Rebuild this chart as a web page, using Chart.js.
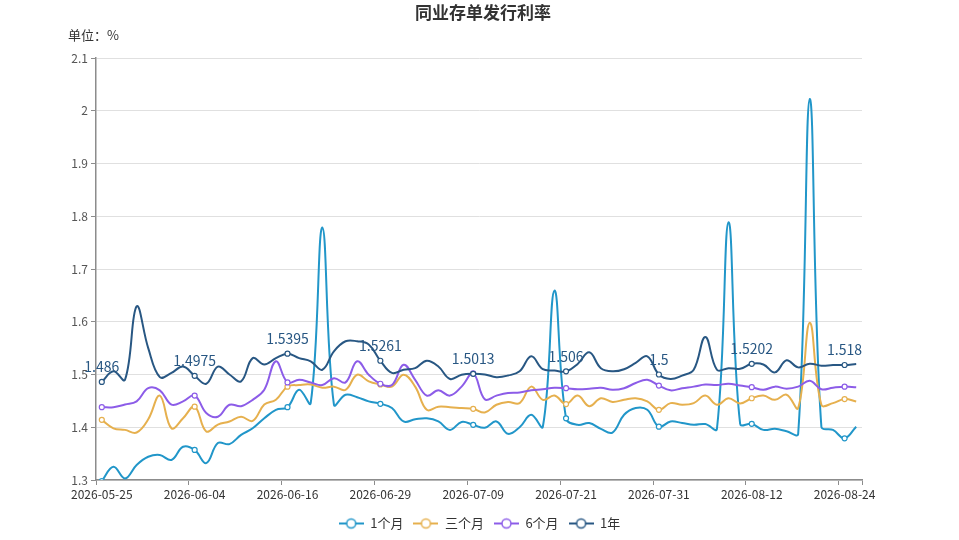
<!DOCTYPE html>
<html lang="zh-CN">
<head>
    <meta charset="UTF-8">
    <title>同业存单发行利率</title>
    <script src="https://cdn.jsdelivr.net/npm/chart.js@4.4.1/dist/chart.umd.min.js"></script>
    <style>
        html, body { margin: 0; padding: 0; background: #fff; }
        #wrap { position: relative; width: 959px; height: 540px; }
    </style>
</head>
<body>
    <div id="wrap"><canvas id="rateChart"></canvas></div>

    <script>
        // 交易日
        const dates = [
            '2026-05-25', '2026-05-26', '2026-05-27', '2026-05-28', '2026-05-29',
            '2026-06-01', '2026-06-02', '2026-06-03', '2026-06-04', '2026-06-05',
            '2026-06-08', '2026-06-09', '2026-06-10', '2026-06-11', '2026-06-12',
            '2026-06-15', '2026-06-16', '2026-06-17', '2026-06-18', '2026-06-22',
            '2026-06-23', '2026-06-24', '2026-06-25', '2026-06-26', '2026-06-29',
            '2026-06-30', '2026-07-01', '2026-07-02', '2026-07-03', '2026-07-06',
            '2026-07-07', '2026-07-08', '2026-07-09', '2026-07-10', '2026-07-13',
            '2026-07-14', '2026-07-15', '2026-07-16', '2026-07-17', '2026-07-20',
            '2026-07-21', '2026-07-22', '2026-07-23', '2026-07-24', '2026-07-27',
            '2026-07-28', '2026-07-29', '2026-07-30', '2026-07-31', '2026-08-03',
            '2026-08-04', '2026-08-05', '2026-08-06', '2026-08-07', '2026-08-10',
            '2026-08-11', '2026-08-12', '2026-08-13', '2026-08-14', '2026-08-17',
            '2026-08-18', '2026-08-19', '2026-08-20', '2026-08-21', '2026-08-24',
            '2026-08-25'
        ];

        const seriesNames = ['1个月', '三个月', '6个月', '1年'];

        const rate1m = [
            1.298, 1.325, 1.303, 1.3285, 1.344, 1.3475, 1.338, 1.363, 1.357, 1.332,
            1.37, 1.368, 1.3855, 1.398, 1.417, 1.433, 1.438, 1.471, 1.4457, 1.7785,
            1.443, 1.4616, 1.457, 1.449, 1.4445, 1.4364, 1.411, 1.415, 1.417, 1.411,
            1.395, 1.41, 1.4046, 1.399, 1.411, 1.3875, 1.40, 1.4236, 1.401, 1.659,
            1.417, 1.4046, 1.408, 1.397, 1.39, 1.4236, 1.4364, 1.433, 1.401, 1.411,
            1.408, 1.4046, 1.406, 1.397, 1.7886, 1.4065, 1.4065, 1.395, 1.397, 1.3925,
            1.3875, 2.0224, 1.401, 1.395, 1.379, 1.401
        ];

        const rate3m = [
            1.414, 1.398, 1.395, 1.39, 1.415, 1.46, 1.398, 1.417, 1.439, 1.392,
            1.405, 1.411, 1.42, 1.412, 1.443, 1.452, 1.477, 1.48, 1.481, 1.475,
            1.477, 1.471, 1.4996, 1.487, 1.481, 1.477, 1.4996, 1.477, 1.433, 1.439,
            1.438, 1.4364, 1.435, 1.428, 1.4426, 1.4477, 1.4457, 1.477, 1.452, 1.46,
            1.444, 1.46, 1.44, 1.455, 1.448, 1.452, 1.455, 1.449, 1.433, 1.4457,
            1.4426, 1.4457, 1.46, 1.4426, 1.455, 1.445, 1.455, 1.46, 1.452, 1.4616,
            1.4364, 1.598, 1.4426, 1.4457, 1.4535, 1.449
        ];

        const rate6m = [
            1.438, 1.438, 1.443, 1.449, 1.474, 1.47, 1.443, 1.449, 1.46, 1.427,
            1.42, 1.4426, 1.44, 1.452, 1.471, 1.525, 1.485, 1.49, 1.485, 1.48,
            1.493, 1.485, 1.525, 1.4996, 1.4825, 1.48, 1.5186, 1.49, 1.46, 1.47,
            1.46, 1.477, 1.502, 1.453, 1.46, 1.465, 1.466, 1.47, 1.472, 1.475,
            1.474, 1.472, 1.473, 1.475, 1.471, 1.474, 1.4838, 1.49, 1.479, 1.47,
            1.474, 1.477, 1.481, 1.48, 1.4825, 1.479, 1.476, 1.471, 1.477, 1.473,
            1.477, 1.488, 1.472, 1.475, 1.477, 1.476
        ];

        const rate1y = [
            1.486, 1.506, 1.49, 1.629, 1.55, 1.495, 1.503, 1.515, 1.4975, 1.4825,
            1.515, 1.50, 1.487, 1.531, 1.519, 1.531, 1.5395, 1.531, 1.525, 1.509,
            1.544, 1.563, 1.563, 1.557, 1.5261, 1.503, 1.509, 1.512, 1.526, 1.515,
            1.4915, 1.4995, 1.5013, 1.50, 1.495, 1.498, 1.506, 1.5345, 1.51, 1.5076,
            1.506, 1.52, 1.542, 1.512, 1.506, 1.51, 1.522, 1.5345, 1.5, 1.4915,
            1.498, 1.509, 1.5713, 1.509, 1.512, 1.511, 1.5202, 1.519, 1.504, 1.527,
            1.5135, 1.5205, 1.5167, 1.518, 1.518, 1.52
        ];

        const yTicks = [1.3, 1.4, 1.5, 1.6, 1.7, 1.8, 1.9, 2.0, 2.1];

        const colors = ['#2196c9', '#e6b04e', '#8c5ce8', '#285783'];
        const MARK_EVERY = 8;
        const FONT = "'Noto Sans CJK SC', 'Noto Sans', sans-serif";

        Chart.defaults.font.family = FONT;
        Chart.defaults.color = '#333';

        // legend icon: short line with a hollow circle, like the original
        function legendIcon(color) {
            const c = document.createElement('canvas');
            c.width = 25;
            c.height = 14;
            const g = c.getContext('2d');
            g.strokeStyle = color;
            g.lineWidth = 2;
            g.beginPath();
            g.moveTo(0, 7);
            g.lineTo(25, 7);
            g.stroke();
            g.beginPath();
            g.arc(12.5, 7, 4.5, 0, Math.PI * 2);
            g.fillStyle = '#fff';
            g.fill();
            g.lineWidth = 1.5;
            g.stroke();
            return c;
        }
        const icons = colors.map(legendIcon);

        // title and unit text
        const headerPlugin = {
            id: 'header',
            afterDraw(chart) {
                const ctx = chart.ctx;
                ctx.save();
                ctx.fillStyle = '#333';
                ctx.textBaseline = 'middle';
                ctx.font = 'bold 17px ' + FONT;
                ctx.textAlign = 'center';
                ctx.fillText('同业存单发行利率', 483, 13);
                ctx.font = '13px ' + FONT;
                ctx.textAlign = 'left';
                ctx.fillText('单位：%', 68, 35);
                ctx.restore();
            }
        };

        // value labels on the 1年 series
        const valueLabels = {
            id: 'valueLabels',
            afterDatasetsDraw(chart) {
                const meta = chart.getDatasetMeta(3);
                const ctx = chart.ctx;
                ctx.save();
                ctx.font = '14px ' + FONT;
                ctx.fillStyle = colors[3];
                ctx.textAlign = 'center';
                ctx.textBaseline = 'middle';
                meta.data.forEach((pt, i) => {
                    if (i % MARK_EVERY !== 0) return;
                    ctx.fillText(String(rate1y[i]), pt.x, pt.y - 15);
                });
                ctx.restore();
            }
        };

        const allSeries = [rate1m, rate3m, rate6m, rate1y];

        new Chart(document.getElementById('rateChart'), {
            type: 'line',
            data: {
                labels: dates,
                datasets: allSeries.map((values, k) => ({
                    label: seriesNames[k],
                    data: values,
                    borderColor: colors[k],
                    backgroundColor: colors[k],
                    borderWidth: 2,
                    tension: 0.4,
                    order: 3 - k,
                    pointRadius: ctx => (ctx.dataIndex % MARK_EVERY === 0 ? 2.5 : 0),
                    pointBackgroundColor: '#fff',
                    pointBorderColor: colors[k],
                    pointBorderWidth: 1.2
                }))
            },
            options: {
                responsive: true,
                maintainAspectRatio: false,
                animation: false,
                events: [],
                layout: { padding: { top: 58, right: 0, bottom: 0, left: 0 } },
                plugins: {
                    title: { display: false },
                    tooltip: { enabled: false },
                    legend: {
                        position: 'bottom',
                        labels: {
                            usePointStyle: true,
                            pointStyleWidth: 25,
                            padding: 10,
                            color: '#333',
                            font: { size: 13 },
                            sort: (a, b) => a.datasetIndex - b.datasetIndex,
                            generateLabels(chart) {
                                const items = Chart.defaults.plugins.legend.labels.generateLabels(chart);
                                items.forEach(it => { it.pointStyle = icons[it.datasetIndex]; });
                                return items;
                            }
                        }
                    }
                },
                scales: {
                    x: {
                        type: 'category',
                        offset: true,
                        afterFit: scale => { scale.height = 27; },
                        border: { display: true, color: '#8c8c8c', width: 1.5 },
                        grid: {
                            offset: true,
                            drawOnChartArea: false,
                            drawTicks: true,
                            tickLength: 5,
                            tickColor: ctx => (ctx.index === undefined || ctx.index % MARK_EVERY === 0) ? '#8c8c8c' : 'rgba(0,0,0,0)'
                        },
                        ticks: {
                            autoSkip: false,
                            maxRotation: 0,
                            minRotation: 0,
                            padding: 2,
                            color: '#333',
                            font: { size: 12 },
                            callback: function (value, index) {
                                return index % MARK_EVERY === 0 ? this.getLabelForValue(value) : '';
                            }
                        }
                    },
                    y: {
                        min: yTicks[0],
                        max: yTicks[yTicks.length - 1],
                        afterFit: scale => { scale.width = 96; },
                        border: { display: true, color: '#8c8c8c', width: 1.5 },
                        grid: {
                            color: '#e0e0e0',
                            tickColor: '#8c8c8c',
                            tickLength: 5
                        },
                        afterBuildTicks: scale => {
                            scale.ticks = yTicks.map(v => ({ value: v }));
                        },
                        ticks: {
                            padding: 3,
                            color: '#555',
                            font: { size: 12 },
                            callback: value => String(+Number(value).toFixed(1))
                        }
                    },
                    // empty right-hand strip so the plot ends where the original does
                    spacer: {
                        position: 'right',
                        afterFit: scale => { scale.width = 97; },
                        border: { display: false },
                        grid: { display: false, drawTicks: false },
                        ticks: { display: false }
                    }
                }
            },
            plugins: [headerPlugin, valueLabels]
        });
    </script>
</body>
</html>
